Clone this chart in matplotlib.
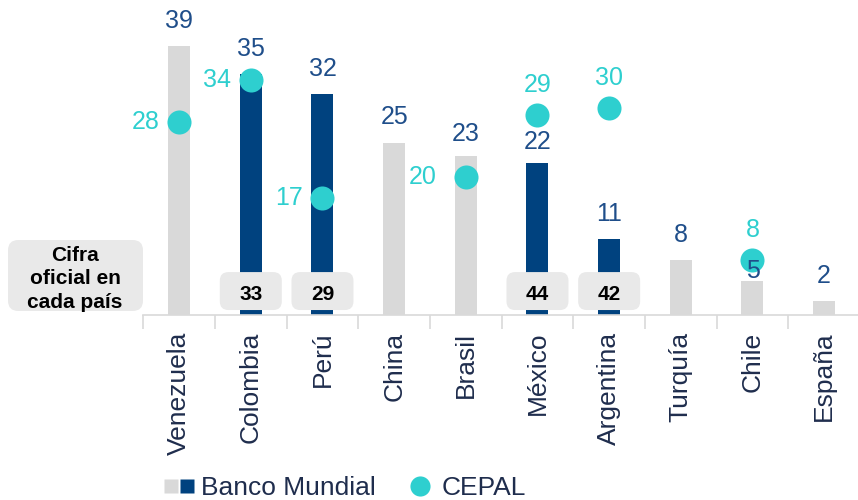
import matplotlib
matplotlib.use('Agg')
import matplotlib.pyplot as plt
from matplotlib.patches import FancyBboxPatch
from matplotlib.lines import Line2D
from matplotlib.legend_handler import HandlerTuple
import numpy as np

plt.rcParams['font.family'] = ['Liberation Sans', 'DejaVu Sans']

# ---- data ----
countries = ['Venezuela', 'Colombia', 'Perú', 'China', 'Brasil', 'México',
             'Argentina', 'Turquía', 'Chile', 'España']
banco_mundial = [39, 35, 32, 25, 23, 22, 11, 8, 5, 2]
cepal = [28, 34, 17, None, 20, 29, 30, None, 8, None]
highlight = [False, True, True, False, False, True, True, False, False, False]
cifra_oficial = [None, 33, 29, None, None, 44, 42, None, None, None]
cifra_title = 'Cifra\noficial en\ncada país'

# ---- styles / positions ----
GRAY = '#D9D9D9'
BLUE = '#00427F'
TEAL = '#2ECFCF'
LBLUE = '#1F4E8A'
NAVY = '#1F2D4D'
BOXC = '#E9E9E9'
cepal_label_side = ['left', 'left', 'left', None, 'left', 'above', 'above', None, 'above', None]
cepal_left_offset = {4: -31}       # points; default -24
bar_label_offset = {8: 7, 4: 16, 5: 15}   # points; default 18

fig = plt.figure(figsize=(8.58, 5.0), dpi=100)
ax = fig.add_axes([143.3 / 858, 185 / 500, 716.7 / 858, 315 / 500])
ax.set_xlim(-0.5, 9.5)
ax.set_ylim(0, 315 / 6.9)

x = np.arange(len(countries))
colors = [BLUE if h else GRAY for h in highlight]
ax.bar(x, banco_mundial, width=0.307, color=colors, zorder=2)

for i, v in enumerate(banco_mundial):
    ax.annotate(str(v), (i, v), xytext=(0, bar_label_offset.get(i, 18)),
                textcoords='offset points', ha='center', va='center',
                fontsize=18, color=LBLUE, zorder=5)

cx = [i for i, c in enumerate(cepal) if c is not None]
cy = [c for c in cepal if c is not None]
ax.scatter(cx, cy, s=300, color=TEAL, linewidths=0, zorder=4)
for i, c in enumerate(cepal):
    if c is None:
        continue
    if cepal_label_side[i] == 'left':
        off = (cepal_left_offset.get(i, -24), 0)
    else:
        off = (0, 21.5)
    ax.annotate(str(c), (i, c), xytext=off, textcoords='offset points',
                ha='center', va='center', fontsize=18, color=TEAL, zorder=5)

# official figure boxes
asp = 71.67 / 6.9
for i, v in enumerate(cifra_oficial):
    if v is None:
        continue
    box = FancyBboxPatch((i - 0.4325, 0.72), 0.865, 5.5,
                         boxstyle='round,pad=0,rounding_size=0.12',
                         mutation_aspect=asp, facecolor=BOXC,
                         edgecolor='none', zorder=3)
    ax.add_patch(box)
    ax.text(i, 2.9, str(v), ha='center', va='center', fontsize=15,
            fontweight='bold', color='black', zorder=6)

lbox = FancyBboxPatch((8 / 858, 189 / 500), 135 / 858, 71 / 500,
                      boxstyle='round,pad=0,rounding_size=0.012',
                      mutation_aspect=858 / 500, facecolor=BOXC,
                      edgecolor='none', transform=fig.transFigure, zorder=3)
fig.add_artist(lbox)
fig.text(75 / 858, 221.3 / 500, cifra_title, ha='center', va='center',
         fontsize=15, fontweight='bold', color='black', linespacing=1.3,
         zorder=6)

# axes styling
for s in ['top', 'left', 'right']:
    ax.spines[s].set_visible(False)
ax.spines['bottom'].set_color(GRAY)
ax.spines['bottom'].set_linewidth(1.2)
ax.set_yticks([])
ax.set_xticks(x)
ax.set_xticklabels(countries, rotation=90, fontsize=19, color=NAVY)
ax.tick_params(axis='x', which='major', length=0, pad=12)
ax.set_xticks(np.arange(-0.5, 10, 1), minor=True)
ax.tick_params(axis='x', which='minor', length=10, width=1.2, color=GRAY)

# legend
gray_h = Line2D([], [], marker='s', ls='none', markerfacecolor=GRAY,
                markeredgecolor='none', markersize=9.5)
blue_h = Line2D([], [], marker='s', ls='none', markerfacecolor=BLUE,
                markeredgecolor='none', markersize=9.5)
circ_h = Line2D([], [], marker='o', ls='none', markerfacecolor=TEAL,
                markeredgecolor='none', markersize=14.5)
fig.legend([(gray_h, blue_h), circ_h], ['Banco Mundial', 'CEPAL'],
           handler_map={tuple: HandlerTuple(ndivide=None, pad=0.08)},
           loc='center left', bbox_to_anchor=(165 / 858, 12 / 500), ncol=2,
           frameon=False, fontsize=19, handlelength=1.06, handletextpad=0.3,
           columnspacing=1.15, labelcolor=NAVY, borderaxespad=0, borderpad=0)

fig.savefig('out.png', dpi=100)
